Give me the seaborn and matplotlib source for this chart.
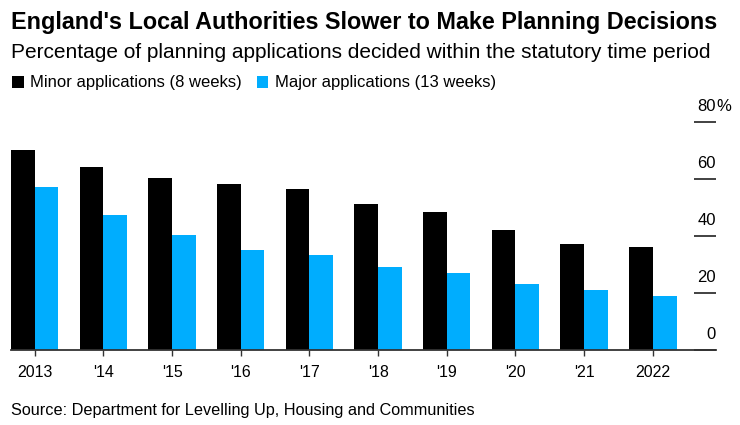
import pandas as pd
import matplotlib.pyplot as plt
import matplotlib.transforms as mtransforms
import seaborn as sns

# -------------------- DATA --------------------
years = ["2013", "'14", "'15", "'16", "'17", "'18", "'19", "'20", "'21", "2022"]
minor_share = [70.2, 64.2, 60.1, 58.2, 56.3, 51.2, 48.2, 42.2, 37.0, 36.1]
major_share = [57.1, 47.2, 40.2, 35.0, 33.2, 29.1, 27.1, 23.1, 21.0, 19.0]
series_names = ["Minor applications (8 weeks)", "Major applications (13 weeks)"]
y_ticks = [0, 20, 40, 60, 80]
y_labels = ["0", "20", "40", "60", "80"]

BLACK = "#000000"
BLUE = "#00adfe"

df = pd.DataFrame({
    "year": years * 2,
    "share": minor_share + major_share,
    "series": [series_names[0]] * len(years) + [series_names[1]] * len(years),
})

sns.set_theme(style="white")
plt.rcParams["font.family"] = ["Liberation Sans", "DejaVu Sans"]
plt.rcParams["text.color"] = "black"

W, H = 740, 425
fig = plt.figure(figsize=(W / 100, H / 100), dpi=100)
ax = fig.add_axes([11 / W, 75 / H, 705 / W, (350 - 121.7) / H])

sns.barplot(data=df, x="year", y="share", hue="series", palette=[BLACK, BLUE],
            width=0.69, saturation=1, errorbar=None, linewidth=0, ax=ax)

ax.set_xlim(-0.345, 9.92)
ax.set_ylim(0, 80)
ax.set_xlabel("")
ax.set_ylabel("")

# -------------------- AXES STYLE --------------------
for side in ["top", "left", "right"]:
    ax.spines[side].set_visible(False)
ax.spines["bottom"].set_color("#333333")
ax.spines["bottom"].set_linewidth(1.3)

ax.tick_params(axis="x", bottom=True, length=4.5, width=1, color="#333333",
               pad=6, labelsize=11.5, labelcolor="black")

# short right-hand gridline dashes instead of full gridlines
ax.yaxis.tick_right()
ax.set_yticks(y_ticks)
ax.tick_params(axis="y", right=True, direction="in", length=15.8, width=1.3,
               color="#333333", labelright=False)

label_tf = mtransforms.offset_copy(ax.get_yaxis_transform(), fig=fig, y=15.5, units="dots")
for val, lab in zip(y_ticks, y_labels):
    t = ax.text(1.0, val, lab, transform=label_tf, ha="right", va="center",
                fontsize=12, color="black")
    if val == y_ticks[-1]:
        ax.annotate("%", xy=(1, 0), xycoords=t, ha="left", va="bottom",
                    fontsize=12, color="black")

# -------------------- LEGEND --------------------
sns.move_legend(ax, "center left", bbox_to_anchor=(12 / W, 1 - 83 / H),
                bbox_transform=fig.transFigure, ncol=2, frameon=False, title=None,
                fontsize=12, handlelength=0.7, handleheight=0.7,
                handletextpad=0.38, columnspacing=0.9, borderpad=0, borderaxespad=0,
                labelcolor="black")

# -------------------- TITLES --------------------
fig.text(11 / W, 1 - 22 / H, "England's Local Authorities Slower to Make Planning Decisions",
         ha="left", va="center", fontsize=16.8, fontweight="bold", color="black")
fig.text(11 / W, 1 - 53 / H,
         "Percentage of planning applications decided within the statutory time period",
         ha="left", va="center", fontsize=15, color="black")
fig.text(11 / W, 1 - 410 / H, "Source: Department for Levelling Up, Housing and Communities",
         ha="left", va="center", fontsize=11.7, color="black")

fig.savefig("out.png", dpi=100, facecolor="white")
